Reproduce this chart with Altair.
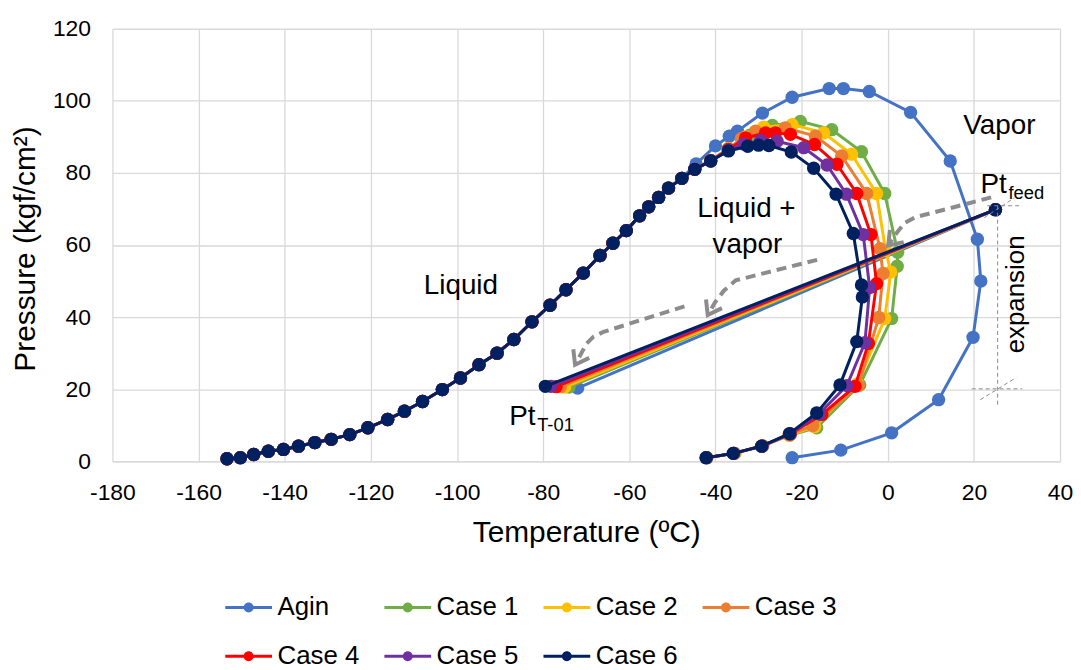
import altair as alt
import pandas as pd

FONT = "Liberation Sans"

SERIES = ["Agin", "Case 1", "Case 2", "Case 3", "Case 4", "Case 5", "Case 6"]
COLORS = ["#4472C4", "#70AD47", "#FFC000", "#ED7D31", "#FF0000", "#7030A0", "#002060"]

# shared lower bubble-point curve (all series overlap here)
BUBBLE_T = [-153.4, -150.3, -147.2, -143.8, -140.3, -136.8, -133.0, -129.2, -124.9, -120.7,
            -116.1, -112.2, -108.0, -103.4, -99.2, -94.9, -90.7, -86.8, -82.6, -78.4,
            -74.7, -70.7, -66.8, -63.8, -60.7, -57.6, -55.5, -53.2, -50.9, -47.8]
BUBBLE_P = [0.7, 1.0, 1.9, 2.8, 3.3, 4.2, 5.2, 6.1, 7.4, 9.3,
            11.6, 13.9, 16.6, 19.9, 23.1, 26.8, 30.0, 33.8, 38.7, 43.3,
            47.6, 52.2, 57.1, 60.5, 64.0, 68.1, 70.6, 73.2, 75.8, 78.5]

# upper bubble + dew curves per series
AGIN_T = [-44.5, -40.0, -36.8, -34.9, -29.1, -22.2, -13.6, -10.3, -4.3, 5.3, 14.5, 20.8, 21.6, 19.8, 11.8, 0.9, -10.9, -22.2]
AGIN_P = [82.5, 87.5, 90.2, 91.6, 96.6, 101.0, 103.4, 103.4, 102.6, 96.8, 83.3, 61.6, 50.0, 34.4, 17.1, 7.9, 3.1, 1.0]
CASE1_T = [-44.8, -41.1, -37.0, -32.0, -26.8, -20.3, -13.0, -6.1, -0.7, 2.3, 2.2, 0.9, -6.5, -16.5, -22.8, -29.0, -35.5, -42.0]
CASE1_P = [81.0, 83.5, 86.8, 90.5, 93.2, 94.3, 92.0, 85.9, 74.3, 58.0, 54.1, 39.6, 21.2, 9.3, 7.2, 4.3, 2.2, 1.0]
CASE2_T = [-44.8, -41.1, -37.0, -33.0, -28.8, -22.2, -14.9, -8.4, -2.6, -0.5, 0.7, -0.7, -7.0, -17.0, -22.9, -29.1, -35.6, -42.0]
CASE2_P = [81.0, 83.4, 86.7, 90.0, 92.7, 93.4, 91.1, 85.2, 74.3, 58.5, 52.5, 39.6, 21.5, 9.6, 7.3, 4.3, 2.2, 1.0]
CASE3_T = [-44.8, -41.1, -37.0, -34.0, -30.7, -23.8, -16.8, -10.7, -4.9, -1.8, -1.1, -2.1, -6.8, -17.4, -22.9, -29.2, -35.7, -42.1]
CASE3_P = [81.0, 83.4, 86.6, 89.5, 91.6, 92.5, 90.2, 84.7, 74.3, 59.0, 52.1, 39.9, 21.0, 9.9, 7.4, 4.3, 2.2, 1.0]
CASE4_T = [-44.8, -41.1, -37.0, -33.0, -28.4, -26.1, -22.6, -17.0, -11.8, -7.2, -3.9, -2.6, -4.5, -7.6, -15.3, -22.6, -29.2, -35.8, -42.1]
CASE4_P = [81.0, 83.4, 86.5, 89.7, 91.1, 91.1, 90.7, 87.9, 82.4, 74.3, 62.9, 49.3, 32.7, 20.8, 13.0, 7.6, 4.2, 2.2, 1.0]
CASE5_T = [-44.8, -41.1, -37.0, -33.5, -29.5, -25.7, -19.5, -14.1, -9.6, -5.7, -4.2, -5.3, -9.5, -15.9, -22.7, -29.2, -35.8, -42.1]
CASE5_P = [81.0, 83.3, 86.3, 88.0, 89.0, 88.8, 87.0, 82.2, 74.1, 62.9, 48.2, 32.9, 21.0, 13.2, 7.6, 4.2, 2.2, 1.0]
CASE6_T = [-44.8, -41.1, -37.0, -32.5, -30.0, -27.6, -22.4, -17.2, -12.0, -8.0, -6.1, -5.9, -7.2, -11.1, -16.5, -22.8, -29.3, -35.9, -42.2]
CASE6_P = [81.0, 83.3, 86.1, 87.4, 87.7, 87.6, 85.8, 81.3, 74.1, 63.2, 48.9, 45.6, 33.2, 21.2, 13.4, 7.7, 4.2, 2.2, 1.0]

UPPER_T = [AGIN_T, CASE1_T, CASE2_T, CASE3_T, CASE4_T, CASE5_T, CASE6_T]
UPPER_P = [AGIN_P, CASE1_P, CASE2_P, CASE3_P, CASE4_P, CASE5_P, CASE6_P]

# expansion: feed point -> T-01 point
FEED_T = 25.0
FEED_P = 69.8
T01_T = [-72.0, -74.0, -75.0, -76.0, -77.0, -78.2, -79.5]
T01_P = [20.3, 20.6, 20.6, 20.7, 20.7, 20.8, 20.8]

XTICKS = [-180, -160, -140, -120, -100, -80, -60, -40, -20, 0, 20, 40]
YTICKS = [0, 20, 40, 60, 80, 100, 120]

# annotation geometry (data coordinates)
A1_T = [24.0, 6.3, 4.0, 2.1, 0.1]
A1_P = [73.2, 67.7, 66.2, 63.4, 59.9]
A2_T = [-16.4, -35.3, -38.0, -40.1, -41.8]
A2_P = [55.9, 50.2, 47.4, 44.1, 40.6]
A3_T = [-47.2, -66.0, -68.3, -69.9, -72.6]
A3_P = [43.0, 35.9, 34.6, 32.7, 26.8]
H1_T = [3.7, 0.1, 0.5]
H1_P = [60.8, 59.9, 64.2]
H2_T = [-38.5, -41.8, -42.2]
H2_P = [42.5, 40.6, 44.9]
H3_T = [-69.3, -72.6, -73.0]
H3_P = [28.7, 26.8, 31.1]

GUIDE_T1 = [25.5, 23.1, 19.5, 21.5, 22.4]
GUIDE_T2 = [25.5, 31.2, 31.2, 29.8, 29.4]
GUIDE_P1 = [70.9, 70.9, 20.1, 17.1, 67.6]
GUIDE_P2 = [15.7, 70.9, 20.1, 23.2, 73.1]

CTEXT = ["Liquid", "Liquid +", "vapor", "Vapor"]
CTEXT_T = [-99.1, -32.8, -32.6, 25.9]
CTEXT_P = [46.3, 67.9, 57.9, 90.8]
LTEXT = ["Pt", "feed", "Pt", "T-01"]
LTEXT_T = [21.5, 28.0, -87.9, -81.4]
LTEXT_P = [74.5, 72.8, 10.2, 8.3]
LTEXT_FS = [28, 18.5, 28, 18.5]
RTEXT = ["expansion"]
RTEXT_T = [31.7]
RTEXT_P = [46.3]

# ---- build tables ----
rows = []
for s, ut, up, et, ep in zip(SERIES, UPPER_T, UPPER_P, T01_T, T01_P):
    ts = BUBBLE_T + ut
    ps = BUBBLE_P + up
    assert len(ts) == len(ps)
    for i, (t, p) in enumerate(zip(ts, ps)):
        rows.append(dict(series=s, part="env", i=i, T=t, P=p))
    rows.append(dict(series=s, part="exp", i=0, T=FEED_T, P=FEED_P))
    rows.append(dict(series=s, part="exp", i=1, T=et, P=ep))
df = pd.DataFrame(rows)

arr_rows = []
for k, (ts, ps) in enumerate([(A1_T, A1_P), (A2_T, A2_P), (A3_T, A3_P)]):
    for i, (t, p) in enumerate(zip(ts, ps)):
        arr_rows.append(dict(a=k, i=i, T=t, P=p))
arr_df = pd.DataFrame(arr_rows)
head_rows = []
for k, (ts, ps) in enumerate([(H1_T, H1_P), (H2_T, H2_P), (H3_T, H3_P)]):
    for i, (t, p) in enumerate(zip(ts, ps)):
        head_rows.append(dict(a=k, i=i, T=t, P=p))
head_df = pd.DataFrame(head_rows)
guide_df = pd.DataFrame(dict(T=GUIDE_T1, T2=GUIDE_T2, P=GUIDE_P1, P2=GUIDE_P2))
ctext_df = pd.DataFrame(dict(label=CTEXT, T=CTEXT_T, P=CTEXT_P))
ltext_df = pd.DataFrame(dict(label=LTEXT, T=LTEXT_T, P=LTEXT_P, fs=LTEXT_FS))
rtext_df = pd.DataFrame(dict(label=RTEXT, T=RTEXT_T, P=RTEXT_P))

X = alt.X("T:Q", scale=alt.Scale(domain=[-180, 40], nice=False, zero=False),
          axis=alt.Axis(values=XTICKS, title="Temperature (ºC)", titleFont=FONT, titleFontSize=30,
                        titleFontWeight="normal", titleColor="#000000", titleBaseline="alphabetic",
                        titleY=81, labelFont=FONT, labelFontSize=23, labelColor="#000000",
                        labelExpr="'' + datum.value",
                        labelPadding=20, ticks=False, labelFlush=False, labelOverlap=False,
                        domainColor="#d9d9d9", domainWidth=1.3, gridColor="#d9d9d9", gridWidth=1.3))
Y = alt.Y("P:Q", scale=alt.Scale(domain=[0, 120], nice=False, zero=False),
          axis=alt.Axis(values=YTICKS, title="Pressure (kgf/cm²)", titleFont=FONT, titleFontSize=30,
                        titleFontWeight="normal", titleColor="#000000", titleAngle=270,
                        titleBaseline="alphabetic", titleAlign="center", titleX=-78, titleY=221,
                        labelFont=FONT, labelFontSize=23, labelColor="#000000", labelPadding=22,
                        ticks=False, domain=False, labelFlush=False, labelOverlap=False,
                        gridColor="#d9d9d9", gridWidth=1.3))

SYMBOL = ("M-4.7,-0.3L4.7,-0.3L4.7,0.3L-4.7,0.3Z "
          "M1,0A1,1,0,1,1,-1,0A1,1,0,1,1,1,0Z")
LEGEND = alt.Legend(orient="none", legendX=124, legendY=569, direction="horizontal", columns=4,
                    title=None, symbolType=SYMBOL, symbolSize=100, symbolStrokeWidth=0,
                    labelFont=FONT, labelFontSize=26, labelColor="#000000", labelOffset=16,
                    columnPadding=24, rowPadding=23, gridAlign="all", padding=0,
                    symbolOpacity=1)
COLOR = alt.Color("series:N", scale=alt.Scale(domain=SERIES, range=COLORS), legend=LEGEND)

layers = []
for s, c in zip(SERIES, COLORS):
    base = alt.Chart(df).transform_filter(alt.datum.series == s)
    layers.append(base.mark_line(strokeWidth=3, color=c).encode(
        x=X, y=Y, detail="part:N", order="i:Q"))
    layers.append(base.mark_point(filled=True, size=180, opacity=1, strokeWidth=0).encode(
        x=X, y=Y, color=COLOR))

GRAY = "#8c8c8c"
layers.append(alt.Chart(guide_df).mark_rule(color="#8a8a8a", strokeWidth=1, strokeDash=[4, 3]).encode(
    x=X, x2="T2:Q", y=Y, y2="P2:Q"))
layers.append(alt.Chart(arr_df).mark_line(color=GRAY, strokeWidth=4, strokeDash=[10, 6]).encode(
    x=X, y=Y, detail="a:N", order="i:Q"))
layers.append(alt.Chart(head_df).mark_line(color=GRAY, strokeWidth=4).encode(
    x=X, y=Y, detail="a:N", order="i:Q"))
layers.append(alt.Chart(ctext_df).mark_text(font=FONT, fontSize=28, color="#000000", align="center",
                                            baseline="alphabetic").encode(x=X, y=Y, text="label:N"))
layers.append(alt.Chart(ltext_df).mark_text(font=FONT, color="#000000", align="left",
                                            baseline="alphabetic").encode(
    x=X, y=Y, text="label:N", size=alt.Size("fs:Q", scale=None)))
layers.append(alt.Chart(rtext_df).mark_text(font=FONT, fontSize=26, color="#000000", align="center",
                                            baseline="alphabetic", angle=270).encode(
    x=X, y=Y, text="label:N"))

chart = alt.layer(*layers).properties(
    width=953, height=435,
    padding={"left": 105, "top": 19, "right": 13, "bottom": 207},
    autosize=alt.AutoSizeParams(type="none"),
    background="white",
).configure_view(stroke=None)

chart.save("out.html", embed_options={"renderer": "svg", "actions": False})
